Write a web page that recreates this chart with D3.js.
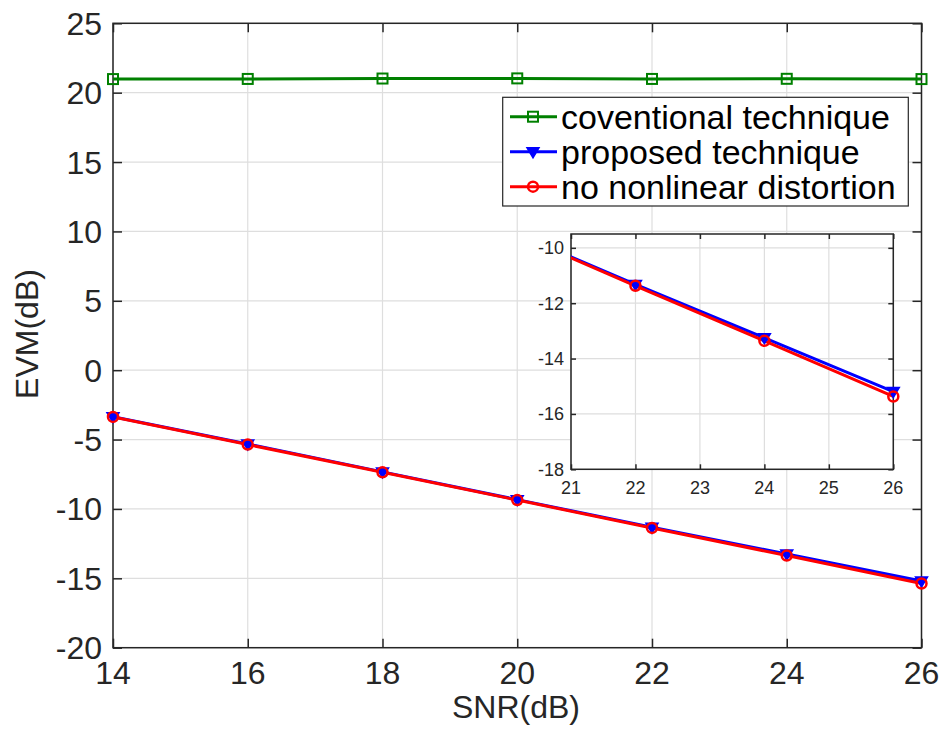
<!DOCTYPE html>
<html><head><meta charset="utf-8">
<script src="https://cdn.jsdelivr.net/npm/d3@7"></script>
<style>body{margin:0;background:#fff}svg{display:block}text{font-family:"Liberation Sans",Arial,sans-serif;fill:#262626}</style>
</head><body>
<script>
const snr = [14, 16, 18, 20, 22, 24, 26];
const conventional = [20.98, 20.99, 21.02, 21.03, 20.99, 21.0, 20.98];
const proposed = [-3.35, -5.32, -7.33, -9.33, -11.32, -13.25, -15.19];
const noDistortion = [-3.37, -5.36, -7.36, -9.36, -11.37, -13.36, -15.37];
const xTicks = [14, 16, 18, 20, 22, 24, 26];
const yTicks = [-20, -15, -10, -5, 0, 5, 10, 15, 20, 25];
const insetXTicks = [21, 22, 23, 24, 25, 26];
const insetYTicks = [-18, -16, -14, -12, -10];
const seriesNames = ["coventional technique", "proposed technique", "no nonlinear distortion"];

const W = 946, H = 732;
const svg = d3.select("body").append("svg").attr("width", W).attr("height", H);
const axisCol = "#262626", gridCol = "#dedede";
const colors = ["#008000", "#0000ff", "#ff0000"];
const series = [conventional, proposed, noDistortion];
const markers = ["square", "tri", "circle"];

function drawMarker(g, type, x, y, col) {
  if (type === "square") {
    g.append("rect").attr("x", x - 5).attr("y", y - 5).attr("width", 10).attr("height", 10)
      .attr("fill", "none").attr("stroke", col).attr("stroke-width", 2);
  } else if (type === "tri") {
    g.append("path").attr("d", `M${x-6},${y-4}L${x+6},${y-4}L${x},${y+6}Z`)
      .attr("fill", col).attr("stroke", col).attr("stroke-width", 1.5);
  } else {
    g.append("circle").attr("cx", x).attr("cy", y).attr("r", 5)
      .attr("fill", "none").attr("stroke", col).attr("stroke-width", 2.5);
  }
}

function panel(opts) {
  const {x0, x1, y0, y1, xd, yd, xt, yt, fs, tickLen, id, xLabOff, yLabOff} = opts;
  const x = d3.scaleLinear().domain(xd).range([x0, x1]);
  const y = d3.scaleLinear().domain(yd).range([y1, y0]);
  const g = svg.append("g");
  g.append("rect").attr("x", x0).attr("y", y0).attr("width", x1 - x0).attr("height", y1 - y0).attr("fill", "#fff");
  g.append("g").selectAll("line").data(xt).join("line")
    .attr("x1", d => x(d)).attr("x2", d => x(d)).attr("y1", y0).attr("y2", y1)
    .attr("stroke", gridCol).attr("stroke-width", 1.2);
  g.append("g").selectAll("line").data(yt).join("line")
    .attr("y1", d => y(d)).attr("y2", d => y(d)).attr("x1", x0).attr("x2", x1)
    .attr("stroke", gridCol).attr("stroke-width", 1.2);
  svg.append("clipPath").attr("id", id).append("rect")
    .attr("x", x0).attr("y", y0).attr("width", x1 - x0).attr("height", y1 - y0);
  // box & ticks
  g.append("rect").attr("x", x0).attr("y", y0).attr("width", x1 - x0).attr("height", y1 - y0)
    .attr("fill", "none").attr("stroke", axisCol).attr("stroke-width", 1.5);
  const bx = d3.axisBottom(x).tickValues(xt).tickSize(-tickLen).tickFormat(() => "");
  const tx = d3.axisTop(x).tickValues(xt).tickSize(-tickLen).tickFormat(() => "");
  const ly = d3.axisLeft(y).tickValues(yt).tickSize(-tickLen).tickFormat(() => "");
  const ry = d3.axisRight(y).tickValues(yt).tickSize(-tickLen).tickFormat(() => "");
  [[bx, `translate(0,${y1})`], [tx, `translate(0,${y0})`], [ly, `translate(${x0},0)`], [ry, `translate(${x1},0)`]].forEach(([a, t]) => {
    const ag = g.append("g").attr("transform", t).call(a);
    ag.select(".domain").remove();
    ag.selectAll("line").attr("stroke", axisCol).attr("stroke-width", 1.5);
  });
  const dg = g.append("g").attr("clip-path", `url(#${id})`);
  const mg = g.append("g");
  const line = d3.line().x((d, i) => x(snr[i])).y(d => y(d));
  series.forEach((s, k) => {
    dg.append("path").datum(s).attr("d", line).attr("fill", "none")
      .attr("stroke", colors[k]).attr("stroke-width", 3);
  });
  series.forEach((s, k) => {
    s.forEach((v, i) => {
      if (snr[i] >= xd[0] && snr[i] <= xd[1] && v >= yd[0] && v <= yd[1])
        drawMarker(mg, markers[k], x(snr[i]), y(v), colors[k]);
    });
  });
  g.append("g").selectAll("text").data(xt).join("text")
    .attr("x", d => x(d)).attr("y", y1 + xLabOff).attr("text-anchor", "middle")
    .attr("font-size", fs).text(d => d);
  g.append("g").selectAll("text").data(yt).join("text")
    .attr("x", x0 - yLabOff).attr("y", d => y(d)).attr("dy", "0.36em").attr("text-anchor", "end")
    .attr("font-size", fs).text(d => d);
  return {x, y, g};
}

panel({x0: 113, x1: 921.5, y0: 23.3, y1: 647.7, xd: [14, 26], yd: [-20, 25],
  xt: xTicks, yt: yTicks, fs: 32, tickLen: 9, id: "cm", xLabOff: 36, yLabOff: 11});

svg.append("text").attr("x", 516).attr("y", 718).attr("text-anchor", "middle")
  .attr("font-size", 32).text("SNR(dB)");
svg.append("text").attr("transform", "translate(38,334) rotate(-90)").attr("text-anchor", "middle")
  .attr("font-size", 32).text("EVM(dB)");

// legend
const lg = svg.append("g");
lg.append("rect").attr("x", 502.7).attr("y", 97.3).attr("width", 405.6).attr("height", 108.7)
  .attr("fill", "#fff").attr("stroke", axisCol).attr("stroke-width", 1.2);
seriesNames.forEach((n, k) => {
  const cy = 116.7 + k * 35;
  lg.append("line").attr("x1", 510).attr("x2", 557).attr("y1", cy).attr("y2", cy)
    .attr("stroke", colors[k]).attr("stroke-width", 3);
  drawMarker(lg, markers[k], 533, cy, colors[k]);
  lg.append("text").attr("x", 561).attr("y", cy).attr("dy", "0.36em")
    .attr("font-size", 34).style("fill", "#000").text(n);
});

// inset
panel({x0: 571, x1: 893.3, y0: 234, y1: 469.3, xd: [21, 26], yd: [-18, -9.5],
  xt: insetXTicks, yt: insetYTicks, fs: 18, tickLen: 5, id: "ci", xLabOff: 25, yLabOff: 7});
</script>
</body></html>
